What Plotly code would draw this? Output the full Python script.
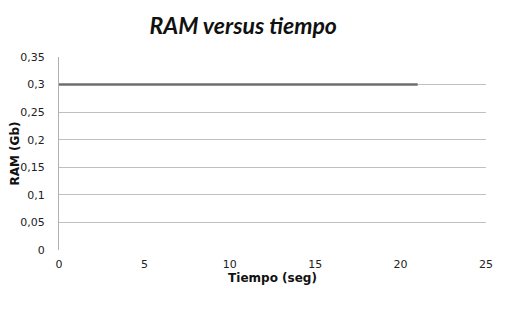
import plotly.graph_objects as go

tiempo = list(range(0, 22))
ram = [0.3] * len(tiempo)
x_ticks = [0, 5, 10, 15, 20, 25]
y_ticks = [0, 0.05, 0.1, 0.15, 0.2, 0.25, 0.3, 0.35]
y_labels = ["0", "0,05", "0,1", "0,15", "0,2", "0,25", "0,3", "0,35"]

fig = go.Figure()
fig.add_trace(go.Scatter(x=tiempo, y=ram, mode="lines",
                         line=dict(color="#6e6e6e", width=2.5), showlegend=False))

fig.update_layout(
    width=509, height=311,
    margin=dict(l=51, r=31, t=49, b=69, autoexpand=False),
    paper_bgcolor="white", plot_bgcolor="white",
    title=dict(text="<b><i>RAM versus tiempo</i></b>", x=0.462, xanchor="center",
               y=0.942, yanchor="middle",
               font=dict(family="Lato", size=23, color="#111")),
    font=dict(family="DejaVu Sans", size=11, color="#222"),
)
fig.update_xaxes(range=[0, 25], tickvals=x_ticks, ticktext=[str(v) for v in x_ticks],
                 showgrid=False, zeroline=False, showline=False, ticks="",
                 ticklen=0, automargin=False, ticklabelstandoff=6,
                 title=dict(text="<b>Tiempo (seg)</b>", standoff=3,
                            font=dict(family="DejaVu Sans", size=12, color="#111")))
fig.update_yaxes(range=[0, 0.35], tickvals=y_ticks, ticktext=y_labels,
                 showgrid=True, gridcolor="#c0c0c0", gridwidth=1,
                 zeroline=False, showline=True, linecolor="#b0b0b0", linewidth=1,
                 ticks="", ticklabelstandoff=11, automargin=False,
                 title=dict(text="<b>RAM (Gb)</b>", standoff=16,
                            font=dict(family="DejaVu Sans", size=12, color="#111")))

fig.write_html("out.html")
